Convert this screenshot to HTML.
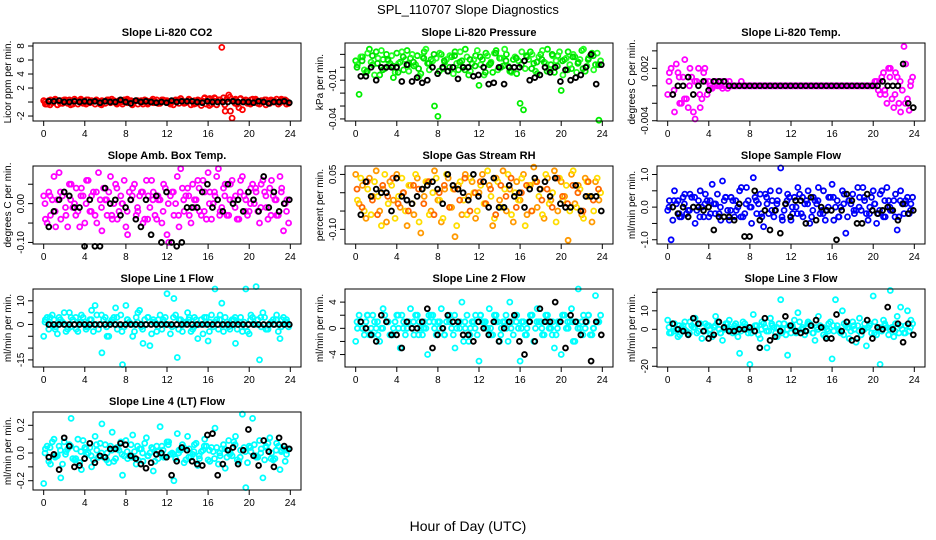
<!DOCTYPE html>
<html><head><meta charset="utf-8">
<style>
body{margin:0;background:#fff;}
svg{display:block;font-family:"Liberation Sans",sans-serif;}
</style></head>
<body>
<svg id="chart" width="936" height="540" viewBox="0 0 936 540" xmlns="http://www.w3.org/2000/svg">
<rect x="0" y="0" width="936" height="540" fill="#fff"/>
<text x="468" y="14" text-anchor="middle" font-size="13">SPL_110707  Slope Diagnostics</text>
<text x="468" y="531" text-anchor="middle" font-size="14">Hour of Day (UTC)</text>
</svg>
<script>
const xTicks=[0,4,8,12,16,20,24];
const titles=["Slope Li-820 CO2","Slope Li-820 Pressure","Slope Li-820 Temp.","Slope Amb. Box Temp.","Slope Gas Stream RH","Slope Sample Flow","Slope Line 1 Flow","Slope Line 2 Flow","Slope Line 3 Flow","Slope Line 4 (LT) Flow"];
const yLabels=["Licor ppm per min.","kPa per min.","degrees C per min.","degrees C per min.","percent per min.","ml/min per min.","ml/min per min.","ml/min per min.","ml/min per min.","ml/min per min."];
const yRanges=[[-2.71,8.43],[-0.0416,0.0188],[-0.00403,0.0049],[-0.104,0.097],[-0.140,0.073],[-1.13,1.26],[-18,15],[-5.9,6.0],[-20.4,21.8],[-0.267,0.296]];
const yTickVals=[[-2,0,2,4,6,8],[-0.04,-0.03,-0.02,-0.01,0,0.01],[-0.004,-0.002,0,0.002,0.004],[-0.10,-0.05,0,0.05],[-0.10,-0.05,0,0.05],[-1,-0.5,0,0.5,1],[-15,-10,-5,0,5,10],[-4,-2,0,2,4],[-20,-10,0,10,20],[-0.2,-0.1,0,0.1,0.2]];
const yTickText=[["-2","","2","4","6","8"],["-0.04","","","-0.01","",""],["-0.004","","","0.002",""],["-0.10","","0.00",""],["-0.10","","","0.05"],["-1.0","","0.0","","1.0"],["-15","","","0","","10"],["-4","","0","","4"],["-20","","0","10",""],["-0.2","","0.0","","0.2"]];
const scales=[1,0.001,0.0001,0.01,0.01,0.1,1,1,1,0.01];
const colorsA=["#ff0000","#00ee00","#ff00ff","#ff00ff","#ff9900","#0000ff","#00ffff","#00ffff","#00ffff","#00ffff"];
const colorsB=["#ee0000","#22ff22","#ff00ff","#ff00ff","#ffdd00","#0000ee","#00ffff","#00ffff","#00ffff","#00ffff"];
const colorsC=["#ff0000","#00dd00","#ff00ff","#ff00ff","#ff6600","#0000ff","#00ffff","#00ffff","#00ffff","#00ffff"];
const sA0=[0.2,-0.3,0.3,0.1,-0.4,0.2,0.3,-0.2,0.1,0.4,-0.3,0.2,-0.1,0.3,0.2,-0.3,0.1,0.2,-0.2,0.3,0.1,-0.1,0.2,-0.3,0.3,0.1,-0.2,0.2,0.1,-0.3,0.2,0.1,-0.1,0.3,-0.2,0.1,0.2,-0.3,0.1,0.2,0.5,-0.2,0.1,-0.4,0.2,0.3,-0.5,0.6,0.4,-0.3,0.5,0.3,7.8,-1.3,1.0,-2.3,0.4,-0.8,-1.1,0.3,-0.2,0.4,0.2,-0.3,0.1,0.3,-0.2,0.2,0.4,-0.1,0.3,0.1];
const sB0=[-0.3,0.2,-0.1,0.3,0.2,-0.2,0.1,0.3,-0.3,0.2,0.1,-0.2,0.3,-0.1,0.1,0.2,-0.3,0.1,0.3,-0.1,0.2,-0.2,0.1,0.3,-0.1,0.2,0.1,-0.3,0.2,0.3,-0.1,0.2,0.1,-0.2,0.3,0.2,-0.1,0.1,0.3,-0.2,0.2,-0.1,0.3,0.1,-0.2,0.2,0.1,-0.3,0.5,0.2,-0.4,0.3,0.6,0.4,-1.3,0.3,-0.3,0.5,0.2,-0.2,0.3,0.1,-0.2,0.2,0.3,-0.1,0.2,0.1,-0.3,0.2,0.3,-0.2];
const sC0=[0,-0.4,0.4,-0.2,0.3,-0.4,0.2,0.4,-0.3,0,0.3,-0.4,0.2,0.4,-0.3,0,0.4,-0.4,0.2,0,-0.3,0.4,-0.2,0.3,0,-0.4,0.3,-0.1,0.4,-0.3,0.1,0.5,-0.5,0.6,0.3,-0.4,0.7,-0.2,0.4,0,-0.3,0.4,0.1,-0.4,0.3,0,0.4,-0.3];
const sK0=[0.1,0.1,0.2,0,0,0.1,0,0.1,0,0.1,-0.1,0.1,0,0,0.3,0,-0.2,0.2,0,0.1,0,-0.1,0,-0.1,0.2,0,0.1,0.1,0.1,0,-0.1,0.1,0,0,0,0,0.1,0,0,0,-0.1,0.1,0,-0.2,0,0,0.1,-0.1];
const sA1=[5,-21,8,-4,14,2,12,-6,6,10,3,-8,11,4,-2,13,7,1,9,-5,12,3,6,-30,-38,10,4,-3,8,12,-2,5,14,-6,3,9,-14,6,11,2,-4,13,7,1,10,-3,6,-5,-28,-33,8,12,3,-5,10,4,14,2,-4,9,-18,6,12,-1,8,4,13,-3,7,11,2,-41];
const sB1=[2,8,-2,11,4,-6,7,13,-1,5,9,-4,3,12,6,-3,10,2,-7,8,14,-2,5,7,11,-1,6,9,-5,3,12,0,8,-3,6,13,2,-6,9,4,11,-2,7,14,1,-4,8,5,12,-1,6,10,-3,8,13,3,-2,9,5,12,-6,7,2,10,-4,6,14,1,9,-2,11,5];
const sC1=[0,5,-3,9,3,-2,6,1,-4,8,2,4,-1,7,3,10,-3,5,0,9,4,-2,6,1,8,-4,3,11,0,5,-3,7,2,9,-1,4,6,-3,10,1,5,-2,8,3,-1,6,9,2];
const sK1=[-7,-7,0,-10,0,0,0,0,-11,2,-11,-8,-12,-10,0,-5,0,-3,0,-9,0,0,-7,-6,0,-13,-12,0,-13,0,0,0,5,-10,-8,-6,0,-4,0,-11,-2,-10,-8,-6,0,10,-13,2];
const sA2=[-10,20,-30,15,-20,30,-25,10,-38,20,-15,5,5,-3,5,0,-3,0,5,0,0,0,0,0,0,0,0,0,0,0,0,0,0,0,0,0,0,0,0,0,0,0,0,0,0,0,0,0,0,0,0,0,0,0,0,0,0,0,0,0,0,5,-10,15,-20,20,-25,10,-30,45,-15,5];
const sB2=[15,-10,25,-20,10,-15,20,-30,5,-25,15,-10,-3,5,0,5,0,-3,0,0,0,5,0,0,0,0,0,0,0,0,0,0,0,0,0,0,0,0,0,0,0,0,0,0,0,0,0,0,0,0,0,0,0,0,0,0,0,0,0,0,5,-5,10,-10,20,-15,15,-20,-5,25,-28,10];
const sC2=[5,-5,10,-15,0,5,-10,20,0,5,0,5,0,0,0,0,0,0,0,0,0,0,0,0,0,0,0,0,0,0,0,0,0,0,0,0,0,0,0,0,0,5,-5,10,-10,5,-20,0];
const sK2=[-10,0,0,10,-10,0,5,-5,5,5,5,0,0,0,0,0,0,0,0,0,0,0,0,0,0,0,0,0,0,0,0,0,0,0,0,0,0,0,0,0,0,5,0,0,0,25,-20,-25];
const sA3=[2,-5,-3,7,1,-4,3,-6,5,0,-2,4,-5,6,2,-3,8,-7,1,3,-4,5,-2,0,-6,3,4,-3,2,-5,6,-1,3,-4,1,5,-8,2,-3,7,9,-2,4,-5,1,6,-3,3,8,-4,2,9,-1,5,-3,6,2,-4,7,1,-2,5,3,-5,6,-1,4,2,-3,7,-7,1];
const sB3=[-4,3,1,-6,8,2,-3,5,-1,4,-6,2,6,-2,3,-5,1,4,-3,7,0,-4,2,6,-8,1,5,-2,3,-4,2,6,-3,1,-5,4,-10,3,0,-6,4,2,-3,5,1,-2,6,-4,3,0,7,-2,4,-3,5,1,-4,6,2,-3,4,0,-2,5,3,-4,6,1,-3,4,0,-5];
const sC3=[0,2,-2,3,-1,1,-3,2,0,-2,3,-1,1,-3,4,0,-2,2,-1,3,-4,1,2,-2,0,3,-3,1,2,-1,4,-2,0,3,-3,2,1,-1,3,-2,0,4,-1,2,-3,1,3,-2];
const sK3=[-6,-2,1,3,2,-1,-1,-11,1,-11,-11,4,0,1,-3,-1,1,-4,-6,1,-8,2,-10,3,-10,-11,-10,-1,-1,-1,3,5,-1,1,-2,5,0,1,-2,3,1,-2,7,-1,3,-2,0,1];
const sA4=[5,-3,2,-7,4,-1,6,-5,1,-8,3,-2,5,-4,0,-9,2,-6,4,-11,-1,3,-5,6,-2,-8,1,4,-4,-12,2,-6,5,-1,3,-7,0,5,-3,2,-9,4,-2,6,-5,1,-8,3,-2,5,-6,2,7,-4,1,-7,4,-2,6,-5,3,-1,-13,5,-3,2,-6,4,-1,-8,3,-2];
const sB4=[-2,4,-5,1,-6,3,-1,-9,5,-3,2,-7,-1,4,-5,2,-3,5,-8,1,3,-6,0,4,-2,-7,5,-4,1,-9,3,-2,-6,4,0,-5,2,-3,6,-1,-7,3,-4,1,5,-6,0,-2,4,-9,2,-5,3,-1,-6,5,-3,0,-8,4,-2,2,-5,6,-4,1,-7,3,-1,-5,4,0];
const sC4=[1,-4,3,-2,-6,2,-1,4,-3,0,-5,2,1,-3,3,-6,0,2,-4,1,-2,4,-5,0,3,-3,1,-6,2,-1,4,-4,0,2,-5,3,-2,1,-4,4,-1,-3,2,0,-5,3,-2,1];
const sK4=[-6,3,-1,1,0,0,-5,4,-1,-2,-3,-1,1,2,3,1,-3,5,2,1,0,-2,5,-1,3,-4,4,-4,-4,2,-1,0,-4,1,4,1,3,-1,4,-3,-4,-4,2,-5,-1,-1,-1,-5];
const sA5=[-1,-10,5,2,-3,4,-1,3,-5,2,0,4,-3,7,1,-2,8,3,-4,2,-1,5,-3,6,0,9,-2,4,-6,1,5,-3,2,12,-1,4,-4,3,6,-2,1,5,-3,2,6,-1,-4,3,7,0,-3,5,-8,2,4,-1,3,6,-2,0,5,-5,4,-3,6,-1,2,-7,5,-2,3,1];
const sB5=[2,-4,1,-3,3,-2,4,0,-1,5,-3,2,-2,1,4,-4,2,-1,3,-3,0,6,-2,2,-5,3,1,-3,4,-2,2,-1,5,-4,1,3,-2,0,4,-3,2,-5,3,1,-2,5,-1,3,-4,2,0,4,-3,1,-2,6,-1,2,-4,3,1,-2,5,-3,2,-1,4,-3,1,2,-2,3];
const sC5=[0,2,-2,1,-1,3,-3,1,2,-2,0,3,-1,2,-3,1,0,2,-2,3,-1,1,-3,2,0,-2,3,1,-1,2,-2,0,3,-3,1,2,-1,0,3,-2,1,-1,2,0,-3,2,1,-1];
const sK5=[0,-2,0,-3,0,0,-1,0,-7,-3,-3,-3,-4,1,-9,-9,5,-4,-1,-7,-1,-8,1,-3,2,2,-5,3,-4,0,-1,-1,-10,-1,4,2,-5,-5,4,-1,-2,-1,0,-1,-4,1,-2,-1];
const sA6=[-5,3,0,2,-4,1,5,-2,3,0,-3,4,1,-1,6,8,-2,-12,3,-5,2,7,0,-17,8,1,-5,3,6,-8,0,-9,2,-3,4,1,13,-4,11,-14,2,0,5,-3,3,-6,2,0,-7,4,15,-2,9,3,-1,2,-8,1,-3,15,-4,3,16,-15,5,-2,0,2,4,-6,3,1];
const sB6=[2,-2,4,-1,3,1,-3,5,2,-2,1,3,-1,2,-3,4,0,2,-5,1,3,-2,4,-1,2,0,-3,5,-1,2,3,-4,1,2,-2,3,0,-1,4,2,-3,1,3,-2,2,0,-4,3,1,-1,2,4,-3,1,0,2,-2,3,1,-3,4,0,2,-1,3,-2,1,0,-3,2,1,-1];
const sC6=[1,3,-2,2,0,-1,3,1,-2,2,0,4,-1,1,3,-3,2,0,1,-2,3,1,-1,2,0,3,-2,1,2,-1,0,3,-3,1,2,0,-2,3,1,-1,2,0,3,-2,1,2,-1,2];
const sK6=[0,0,0,0,0,0,0,0,0,0,0,0,0,0,0,0,0,0,0,0,0,0,0,0,0,0,0,0,0,0,0,0,0,0,0,0,0,0,0,0,0,0,0,0,0,0,0,0];
const sA7=[-2,2,0,1,-1,2,0,-2,3,1,-1,0,2,-3,1,0,3,-1,2,0,1,-4,2,0,1,3,-1,2,0,-3,1,4,0,-2,1,2,-5,1,0,3,-1,2,-2,1,0,4,-1,2,-5,1,0,2,-2,3,1,-1,2,0,-3,1,-4,2,0,3,-2,6,1,0,2,-1,5,1];
const sB7=[0,1,-1,2,0,1,-1,0,2,1,-1,1,0,2,-1,1,0,2,1,-1,0,1,2,-1,1,0,1,2,-1,0,1,-2,2,0,1,-1,2,1,0,-1,2,1,0,1,-2,1,2,0,1,-1,1,2,0,1,-1,2,0,1,-1,1,2,0,1,-2,1,0,2,1,-1,0,1,2];
const sC7=[1,0,2,-1,1,0,1,-1,2,0,1,1,-1,0,2,1,0,-1,1,2,0,1,-1,0,2,1,0,1,-1,2,0,1,0,-1,2,1,0,1,-1,0,2,1,1,0,-1,2,0,1];
const sK7=[1,0,-1,-2,2,1,-1,-1,-3,1,0,0,1,3,-3,-1,0,2,1,1,-1,-1,-2,1,0,-1,1,-2,0,1,2,-2,-4,1,-2,3,1,1,4,1,-3,2,1,-1,1,-5,1,-1];
const sA8=[5,-2,3,-4,1,4,-3,2,6,-1,-5,3,2,-4,7,0,-6,3,5,-2,1,-13,4,0,-19,8,2,-5,3,-10,6,1,-4,16,3,-14,-2,5,9,0,-3,4,2,-6,7,1,-4,3,-16,16,-1,10,2,-5,4,-7,6,0,-9,3,18,-3,-19,5,1,21,-4,7,12,-2,10,5];
const sB8=[-2,3,0,-3,2,-1,4,1,-2,3,-1,2,-3,1,4,-2,0,3,-1,2,-4,1,3,-2,0,2,-3,4,1,-1,2,-2,3,0,-3,2,1,-2,4,0,-1,3,-2,1,2,-3,0,4,-1,2,-2,3,1,-1,0,2,-3,3,1,-2,4,0,-1,2,-3,1,3,-2,0,2,-1,3];
const sC8=[1,-1,2,0,-2,1,3,-1,0,2,-2,1,0,3,-1,1,-2,2,0,-1,3,1,-2,0,2,-1,1,3,-2,0,1,-1,2,0,-3,1,2,-1,0,2,-2,1,3,0,-1,2,-2,1];
const sK8=[3,0,-1,-3,6,3,-1,-5,-3,4,1,-1,-1,0,0,1,-1,-10,6,-6,-4,-1,7,2,-1,-2,-1,2,5,1,-5,-5,8,-1,4,-6,-5,-1,5,-5,1,0,12,0,3,-7,3,-3];
const sA9=[-22,5,-8,10,-2,-18,8,3,25,-5,10,-12,4,0,-10,12,-3,21,6,-7,15,-4,2,-16,9,-2,13,-8,3,-6,11,0,-13,5,19,-3,8,-1,-20,14,2,-7,12,-3,6,-9,1,10,-5,4,18,-8,3,-11,9,-2,12,-6,28,-25,5,25,-3,9,-18,4,11,-5,7,-12,3,2];
const sB9=[3,-6,8,-2,5,-8,1,6,-4,3,-7,9,-1,4,-5,2,7,-3,0,5,-6,3,8,-2,-4,6,1,-5,3,7,-2,4,-6,1,5,-3,8,0,-4,2,6,-5,3,-1,7,-4,2,5,-6,1,4,-2,6,-3,0,8,-5,2,4,-7,1,6,-3,3,-5,7,0,-4,5,2,-6,3];
const sC9=[0,4,-3,2,-1,5,-4,1,3,-2,6,0,-5,2,4,-1,1,-3,5,0,-2,3,-4,2,6,-1,0,4,-3,1,-2,5,2,-4,0,3,-1,6,-3,1,4,-2,0,5,-4,2,1,-1];
const sK9=[-3,-1,-12,11,5,-10,-9,-4,7,-7,-2,-3,3,3,7,6,-2,-4,-8,-11,-7,-1,0,-3,-16,-6,4,2,-6,-8,-9,13,14,-16,-8,2,4,-8,2,17,-2,-9,9,1,-10,11,5,3];
const seriesA=[sA0,sA1,sA2,sA3,sA4,sA5,sA6,sA7,sA8,sA9];
const seriesB=[sB0,sB1,sB2,sB3,sB4,sB5,sB6,sB7,sB8,sB9];
const seriesC=[sC0,sC1,sC2,sC3,sC4,sC5,sC6,sC7,sC8,sC9];
const seriesK=[sK0,sK1,sK2,sK3,sK4,sK5,sK6,sK7,sK8,sK9];

const NS="http://www.w3.org/2000/svg";
const svg=document.getElementById('chart');
function mk(tag,attrs,parent){const e=document.createElementNS(NS,tag);for(const k in attrs)e.setAttribute(k,attrs[k]);(parent||svg).appendChild(e);return e;}

titles.forEach((title,p)=>{
  const col=p%3,row=Math.floor(p/3);
  const L=33+312*col,R=L+268,T=43+123*row,B=T+78;
  const g=mk('g',{});
  
  
  const xs=h=>L+(h+1.04)/26.08*(R-L);
  const [y0,y1]=yRanges[p];
  const ys=v=>B-(v-y0)/(y1-y0)*(B-T);
  const t=mk('text',{x:(L+R)/2,y:T-7,'text-anchor':'middle','font-size':11,'font-weight':'bold'},g);
  t.textContent=title;
  
  
  const yl=mk('text',{x:0,y:0,'text-anchor':'middle','font-size':10,transform:`translate(${L-22},${(T+B)/2}) rotate(-90)`},g);
  yl.textContent=yLabels[p];
  
  
  const pts=mk('g',{fill:'none'},g);
  
  
  const sc=scales[p];
  [[seriesA[p],0,colorsA[p]],[seriesB[p],0.5,colorsB[p]],[seriesC[p],0.25,colorsC[p]]].forEach(([arr,off,color])=>{
    arr.forEach((v,i)=>{
      const h=(i+off)*24/arr.length;
      const c=mk('circle',{cx:xs(h).toFixed(1),cy:ys(v*sc).toFixed(1),r:2.5,stroke:color,'stroke-width':1.8},pts);
      
      
    });
  });
  seriesK[p].forEach((v,i,arr)=>{
    const h=0.5+i*23.4/(arr.length-1);
    const c=mk('circle',{cx:xs(h).toFixed(1),cy:ys(v*sc).toFixed(1),r:2.4,stroke:'#000','stroke-width':1.9},pts);
    
    
  });
  const box=mk('rect',{x:L,y:T,width:R-L,height:B-T,fill:'none',stroke:'#000','stroke-width':1},g);
  
  
  mk('line',{x1:xs(0),x2:xs(24),y1:B,y2:B,stroke:'#000'},g);
  xTicks.forEach(v=>{
    mk('line',{x1:xs(v),x2:xs(v),y1:B,y2:B+5,stroke:'#000'},g);
    const tl=mk('text',{x:xs(v),y:B+16,'text-anchor':'middle','font-size':10},g);
    tl.textContent=v;
    
    
  });
  const yt=yTickVals[p];
  mk('line',{x1:L,x2:L,y1:ys(yt[0]),y2:ys(yt[yt.length-1]),stroke:'#000'},g);
  yt.forEach((v,i)=>{
    mk('line',{x1:L-5,x2:L,y1:ys(v),y2:ys(v),stroke:'#000'},g);
    const s=yTickText[p][i];
    if(s){
      const tl=mk('text',{x:0,y:0,'text-anchor':'middle','font-size':10,transform:`translate(${L-9},${ys(v)}) rotate(-90)`},g);
      tl.textContent=s;
      
      
    }
  });
});
</script>
</body></html>
